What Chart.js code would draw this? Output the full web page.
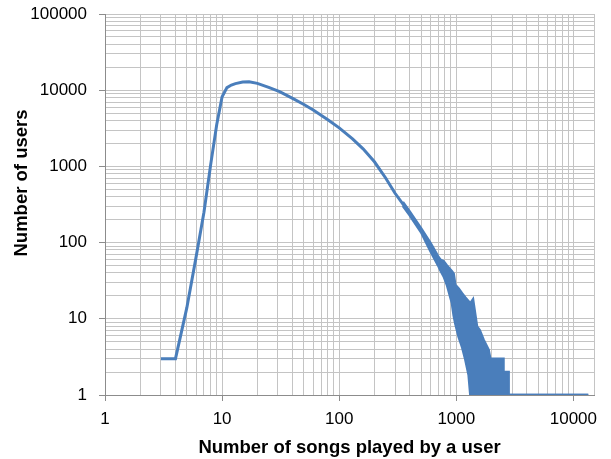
<!DOCTYPE html>
<html>
<head>
<meta charset="utf-8">
<script src="https://cdn.jsdelivr.net/npm/chart.js@4/dist/chart.umd.min.js"></script>
<style>
  html, body { margin: 0; padding: 0; background: #fff; }
  #wrap { width: 611px; height: 459px; }
</style>
</head>
<body>
<div id="wrap"><canvas id="songsChart"></canvas></div>
<script>
// Tick labels (powers of ten)
const xTicks = [1, 10, 100, 1000, 10000];
const yTicks = [1, 10, 100, 1000, 10000, 100000];
const xMax = 15000;

// Main curve: number of songs played -> number of users
const songsMain = [3, 4, 5, 6, 7, 8, 9, 10, 11, 12, 13, 15, 17, 20, 25, 31, 40, 50, 60, 80, 100, 130, 160, 200, 250, 300, 400, 500, 600];
const usersMain = [3, 3, 14, 65, 250, 1070, 3550, 8200, 10800, 11700, 12200, 12800, 12900, 12300, 10900, 9600, 7800, 6500, 5500, 4100, 3200, 2300, 1700, 1150, 700, 444, 242, 146, 88];

// Noisy tail: upper and lower edge of the band
const tailSongs = [350, 400, 500, 600, 700, 730, 780, 832, 918, 950, 980, 1047, 1119, 1195, 1274, 1318, 1390, 1504, 1585, 1711, 1889, 1950, 2530, 2530, 2800, 2800, 13400];
const tailUpper = [340, 257, 155, 100, 66, 60, 57, 50, 42, 39, 28, 25, 21.6, 19, 17, 16, 18, 7.9, 7.1, 5.3, 3.9, 3, 3, 2, 2, 1, 1];
const tailLower = [302, 228, 137, 78, 50, 43.6, 36, 27.8, 16, 11, 8.7, 5.8, 4.3, 2.9, 1.83, 1, 1, 1, 1, 1, 1, 1, 1, 1, 1, 1, 1];

const blue = 'rgb(74, 126, 187)';
const gridGray = '#c4c4c4';
const axisGray = '#8c8c8c';

function toPoints(xs, ys) {
    return xs.map((x, i) => ({ x: x, y: ys[i] }));
}

// 1..9 in each decade, as on an Excel log axis
function decadeTicks(majors, extra) {
    const list = [];
    for (let i = 0; i < majors.length - 1; i++) {
        for (let m = 1; m < 10; m++) list.push(majors[i] * m);
    }
    list.push(majors[majors.length - 1]);
    if (extra) list.push(extra);
    return list;
}

// y axis title drawn by hand so it can sit where the original has it
const yTitlePlugin = {
    id: 'yTitle',
    afterDraw(chart) {
        const ctx = chart.ctx;
        ctx.save();
        ctx.translate(22, 183);
        ctx.rotate(-Math.PI / 2);
        ctx.font = 'bold 18.5px "Liberation Sans", Arial, sans-serif';
        ctx.fillStyle = '#000';
        ctx.textAlign = 'center';
        ctx.textBaseline = 'middle';
        ctx.fillText('Number of users', 0, 0);
        ctx.restore();
    }
};

const ctx = document.getElementById('songsChart').getContext('2d');
new Chart(ctx, {
    type: 'line',
    data: {
        datasets: [
            {
                data: toPoints(songsMain, usersMain),
                borderColor: blue,
                borderWidth: 3,
                pointRadius: 0,
                tension: 0,
                fill: false
            },
            {
                data: toPoints(tailSongs, tailUpper),
                borderColor: blue,
                backgroundColor: blue,
                borderWidth: 2.5,
                pointRadius: 0,
                tension: 0,
                fill: '+1'
            },
            {
                data: toPoints(tailSongs, tailLower),
                borderColor: blue,
                borderWidth: 2.5,
                pointRadius: 0,
                tension: 0,
                fill: false
            }
        ]
    },
    options: {
        responsive: true,
        maintainAspectRatio: false,
        animation: false,
        layout: { padding: { left: 0, right: 17, top: 14, bottom: 0 } },
        plugins: {
            legend: { display: false },
            tooltip: { enabled: false }
        },
        scales: {
            x: {
                type: 'logarithmic',
                min: 1,
                max: xMax,
                afterBuildTicks: scale => {
                    scale.ticks = decadeTicks(xTicks, xMax).map(v => ({ value: v }));
                },
                afterFit: scale => {
                    scale.height = 64;
                    scale.paddingLeft = 0;
                    scale.paddingRight = 0;
                },
                grid: {
                    color: gridGray,
                    tickLength: 6,
                    tickColor: c => xTicks.includes(c.tick.value) ? axisGray : 'rgba(0,0,0,0)'
                },
                border: { color: axisGray },
                ticks: {
                    autoSkip: false,
                    maxRotation: 0,
                    padding: 8,
                    color: '#000',
                    font: { family: '"Liberation Sans", Arial, sans-serif', size: 17 },
                    callback: v => xTicks.includes(v) ? String(v) : ''
                },
                title: {
                    display: true,
                    text: 'Number of songs played by a user',
                    color: '#000',
                    font: { family: '"Liberation Sans", Arial, sans-serif', size: 18.5, weight: 'bold' },
                    padding: { top: 0, bottom: 0 }
                }
            },
            y: {
                type: 'logarithmic',
                min: 1,
                max: 100000,
                afterBuildTicks: scale => {
                    scale.ticks = decadeTicks(yTicks).map(v => ({ value: v }));
                },
                afterFit: scale => {
                    scale.width = 105;
                    scale.paddingTop = 0;
                    scale.paddingBottom = 0;
                },
                grid: {
                    color: gridGray,
                    tickLength: 6,
                    tickColor: c => yTicks.includes(c.tick.value) ? axisGray : 'rgba(0,0,0,0)'
                },
                border: { color: axisGray },
                ticks: {
                    autoSkip: false,
                    padding: 12,
                    color: '#000',
                    font: { family: '"Liberation Sans", Arial, sans-serif', size: 17 },
                    callback: v => yTicks.includes(v) ? String(v) : ''
                }
            }
        }
    },
    plugins: [yTitlePlugin]
});
</script>
</body>
</html>
